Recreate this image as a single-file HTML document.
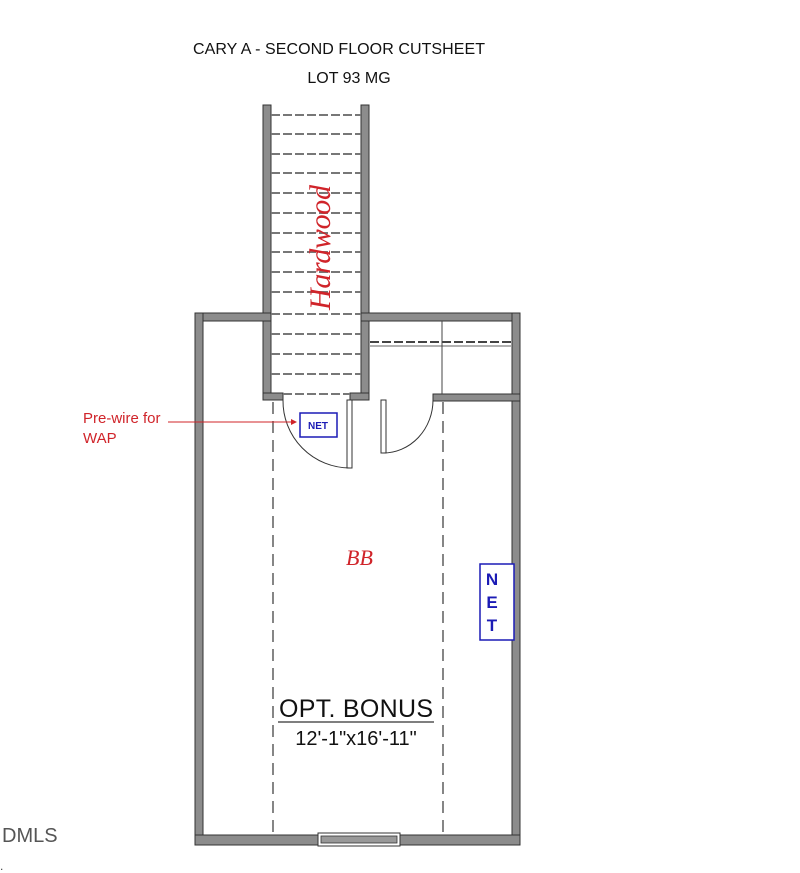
<!DOCTYPE html>
<html><head><style>
html,body{margin:0;padding:0;background:#fff;width:800px;height:873px;overflow:hidden}
svg{display:block}
</style></head><body>
<svg width="800" height="873" viewBox="0 0 800 873" xmlns="http://www.w3.org/2000/svg" font-family="Liberation Sans, Arial, sans-serif">
<text x="339" y="54" font-size="16" text-anchor="middle" fill="#111" textLength="292">CARY A - SECOND FLOOR CUTSHEET</text>
<text x="349" y="83" font-size="16" text-anchor="middle" fill="#111">LOT 93 MG</text>

<g fill="#8c8c8c" stroke="#333" stroke-width="1">
<rect x="263" y="105" width="8" height="295"/>
<rect x="361" y="105" width="8" height="295"/>
<rect x="263" y="393" width="20" height="7"/>
<rect x="350" y="393" width="19" height="7"/>
<rect x="195" y="313" width="76" height="8"/>
<rect x="361" y="313" width="159" height="8"/>
<rect x="195" y="313" width="8" height="532"/>
<rect x="512" y="313" width="8" height="532"/>
<rect x="195" y="835" width="325" height="10"/>
<rect x="433" y="394" width="87" height="7"/>
</g>
<g stroke="#777" stroke-width="2" stroke-dasharray="9,3">
<line x1="271" y1="115" x2="361" y2="115"/>
<line x1="271" y1="134" x2="361" y2="134"/>
<line x1="271" y1="154" x2="361" y2="154"/>
<line x1="271" y1="173" x2="361" y2="173"/>
<line x1="271" y1="193" x2="361" y2="193"/>
<line x1="271" y1="213" x2="361" y2="213"/>
<line x1="271" y1="233" x2="361" y2="233"/>
<line x1="271" y1="252" x2="361" y2="252"/>
<line x1="271" y1="272" x2="361" y2="272"/>
<line x1="271" y1="292" x2="361" y2="292"/>
<line x1="271" y1="314" x2="361" y2="314"/>
<line x1="271" y1="334" x2="361" y2="334"/>
<line x1="271" y1="354" x2="361" y2="354"/>
<line x1="271" y1="374" x2="361" y2="374"/>
<line x1="283" y1="394" x2="350" y2="394"/>
<line x1="370" y1="342" x2="512" y2="342" stroke="#444"/>
</g>
<line x1="370" y1="346" x2="512" y2="346" stroke="#999" stroke-width="1.5"/>
<line x1="442" y1="321" x2="442" y2="394" stroke="#444" stroke-width="1"/>
<g stroke="#444" stroke-width="1.3" stroke-dasharray="12,7">
<line x1="273" y1="402" x2="273" y2="835"/>
<line x1="443" y1="402" x2="443" y2="835"/>
</g>
<rect x="347" y="400" width="5" height="68" fill="#fff" stroke="#333"/>
<path d="M283 400 A67 67 0 0 0 350 468" fill="none" stroke="#333" stroke-width="1"/>
<rect x="381" y="400" width="5" height="53" fill="#fff" stroke="#333"/>
<path d="M433 400 A50 53 0 0 1 383 453" fill="none" stroke="#333" stroke-width="1"/>
<rect x="318" y="833" width="82" height="13" fill="#fff" stroke="#333"/>
<rect x="321" y="836" width="76" height="7" fill="#999" stroke="#333" stroke-width="0.8"/>
<rect x="300" y="413" width="37" height="24" fill="#fff" stroke="#1b1bb5" stroke-width="1.5"/>
<text x="318" y="429" font-size="10" font-weight="bold" text-anchor="middle" fill="#1b1bb5">NET</text>
<rect x="480" y="564" width="34" height="76" fill="#fff" stroke="#1b1bb5" stroke-width="1.5"/>
<g font-size="17" font-weight="bold" fill="#1b1bb5" text-anchor="middle">
<text x="492" y="585">N</text><text x="492" y="608">E</text><text x="492" y="631">T</text>
</g>
<text x="83" y="423" font-size="15" fill="#d0242a">Pre-wire for</text>
<text x="83" y="443" font-size="15" fill="#d0242a">WAP</text>
<line x1="168" y1="422" x2="296" y2="422" stroke="#d0242a" stroke-width="1"/>
<path d="M297 422 l-6 -3 v6 z" fill="#d0242a"/>
<text x="0" y="0" transform="translate(330,310) rotate(-90)" font-size="30" fill="#d0242a" font-family="Liberation Serif, serif" font-style="italic" textLength="125">Hardwood</text>
<text x="346" y="565" font-size="22" fill="#d0242a" font-style="italic" font-family="Liberation Serif, serif">BB</text>
<text x="356" y="717" font-size="25" text-anchor="middle" fill="#111" textLength="154">OPT. BONUS</text>
<line x1="278" y1="722" x2="434" y2="722" stroke="#555" stroke-width="1.5"/>
<text x="356" y="745" font-size="20" text-anchor="middle" fill="#111">12'-1"x16'-11"</text>
<text x="2" y="842" font-size="20" fill="#555">DMLS</text>
<text x="0" y="870" font-size="12" fill="#444">.</text>
</svg>
</body></html>
